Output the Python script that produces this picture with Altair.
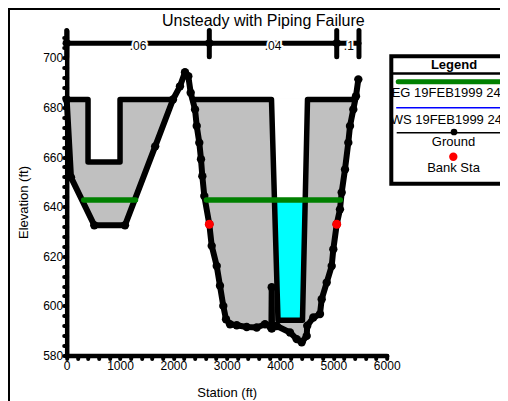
import altair as alt
import pandas as pd

# ---------------- data ----------------
ground_sta = [0, 81, 517, 1093, 1659, 1993, 2124, 2218, 2280, 2325, 2406, 2438, 2486, 2518,
              2543, 2580, 2674, 2719, 2813, 2874, 2936, 2987, 3062, 3188, 3375, 3563, 3718,
              3812, 3838, 3844, 3850, 3938, 4187, 4313, 4406, 4500, 4510, 4624, 4749, 4781,
              4875, 4969, 4999, 5063, 5124, 5156, 5218, 5280, 5312, 5374, 5424, 5468]
ground_elev = [683.2, 651.8, 632.5, 632.5, 664.3, 683.2, 688.5, 694.2, 692.6, 685.9, 679.2,
               672.5, 665.8, 659.1, 652.3, 644.3, 632.9, 624.2, 616.1, 608.1, 600.0, 594.6,
               592.6, 592.2, 591.5, 591.3, 592.6, 591.9, 591.0, 607.5, 591.0, 591.9, 589.3,
               586.6, 585.3, 587.9, 592.0, 595.3, 596.7, 602.7, 609.4, 616.1, 622.8, 632.9,
               638.9, 645.7, 655.0, 665.8, 672.5, 679.2, 684.5, 691.3]

crest_left_sta = [0, 400, 400, 1000, 1000, 1993]
crest_left_elev = [683.2, 683.2, 658.0, 658.0, 683.2, 683.2]
crest_right_sta = [2360, 3840, 3962, 4421, 4515, 5410]
crest_right_elev = [683.2, 683.2, 594.2, 594.2, 683.2, 683.2]

breach_sta = [3840, 4515, 4421, 3962]
breach_elev = [683.2, 683.2, 594.2, 594.2]
water_sta = [3896, 4472, 4421, 3962]
water_elev = [641.8, 641.8, 594.2, 594.2]

eg_sta = [320, 1290, 2620, 5130]
eg_seg = [0, 0, 1, 1]
eg_elev = 642.7
ws_elev = 642.2

bank_sta = [2674, 5063]
bank_elev = [632.9, 632.9]

n_break_sta = [0, 2674, 5063, 5480]
n_values = [".06", ".04", ".1"]
n_label_sta = [1337, 3868, 5290]
n_bar_elev = 705.9
n_label_elev = 704.8
n_tick_lo, n_tick_hi = 700.4, 711.0

legend_labels = ["EG 19FEB1999 2400", "WS 19FEB1999 2400", "Ground", "Bank Sta"]

FONT = "Liberation Sans"

# ---------------- tables ----------------
def poly(sta, elev, g):
    return pd.DataFrame({"x": sta, "y": elev, "i": list(range(len(sta))), "g": g})

g_pairs = list(zip(ground_sta, ground_elev))
p1 = [(s, e) for s, e in zip(crest_left_sta, crest_left_elev)] + \
     [(s, e) for s, e in reversed(g_pairs) if 0 < s < 1993]
p2 = [(2360, 683.2), (5410, 683.2)] + [(s, e) for s, e in reversed(g_pairs) if 2360 < s < 5410]
gray_df = pd.concat([poly([a for a, _ in p1], [b for _, b in p1], "p1"),
                     poly([a for a, _ in p2], [b for _, b in p2], "p2")])
breach_df = poly(breach_sta, breach_elev, "b")
water_df = poly(water_sta, water_elev, "w")
crest_df = pd.concat([poly(crest_left_sta, crest_left_elev, "l"),
                      poly(crest_right_sta, crest_right_elev, "r")])
ground_df = poly(ground_sta, ground_elev, "g")
eg_df = pd.DataFrame({"x": eg_sta, "y": [eg_elev] * 4, "g": eg_seg})
ws_df = pd.DataFrame({"x": eg_sta, "y": [ws_elev] * 4, "g": eg_seg})
bank_df = pd.DataFrame({"x": bank_sta, "y": bank_elev})
nbar_df = pd.DataFrame({"x": [n_break_sta[0], n_break_sta[-1]], "y": [n_bar_elev] * 2})
ntick_df = pd.DataFrame({"x": n_break_sta, "y": [n_tick_lo] * 4, "y2": [n_tick_hi] * 4})
ndot_df = pd.DataFrame({"x": n_break_sta[:3], "y": [n_bar_elev] * 3})
nlab_df = pd.DataFrame({"x": n_label_sta, "y": [n_label_elev] * 3, "t": n_values})
one = pd.DataFrame({"a": [0]})

# ---------------- encodings ----------------
X = alt.X("x:Q", scale=alt.Scale(domain=[0, 6000], nice=False, zero=False),
          axis=alt.Axis(values=list(range(0, 6001, 200)), format="d",
                        labelExpr="datum.value % 1000 == 0 ? datum.label : ''",
                        title="Station (ft)", titleX=160, titleY=41,
                        titleBaseline="alphabetic", titleAlign="center",
                        labelFlush=False, labelOverlap=False, labelPadding=2))
Y = alt.Y("y:Q", scale=alt.Scale(domain=[580, 711], nice=False, zero=False),
          axis=alt.Axis(values=list(range(580, 709, 4)), format="d",
                        labelExpr="datum.value % 20 == 0 ? datum.label : ''",
                        title="Elevation (ft)", titleX=-42.7, titleY=171.5,
                        titleAngle=270, titleBaseline="middle", titleAlign="center",
                        labelOverlap=False, labelPadding=1))
O = alt.Order("i:Q")

layers = []
layers.append(alt.Chart(gray_df).mark_line(fill="#c0c0c0", stroke="#c0c0c0", strokeWidth=1)
              .encode(x=X, y=Y, order=O, detail="g:N"))
layers.append(alt.Chart(breach_df).mark_line(fill="white", stroke="white", strokeWidth=1)
              .encode(x=X, y=Y, order=O))
layers.append(alt.Chart(water_df).mark_line(fill="#00ffff", stroke="#00ffff", strokeWidth=1)
              .encode(x=X, y=Y, order=O))
layers.append(alt.Chart(crest_df).mark_line(color="black", strokeWidth=5.5, strokeJoin="round",
                                            strokeCap="round")
              .encode(x=X, y=Y, order=O, detail="g:N"))
layers.append(alt.Chart(ground_df).mark_line(color="black", strokeWidth=6, strokeJoin="round",
                                             strokeCap="round")
              .encode(x=X, y=Y, order=O))
layers.append(alt.Chart(ground_df).mark_circle(color="black", size=70, opacity=1)
              .encode(x=X, y=Y))
layers.append(alt.Chart(ws_df).mark_line(color="#0000ff", strokeWidth=1.2)
              .encode(x=X, y=Y, detail="g:N"))
layers.append(alt.Chart(eg_df).mark_line(color="#008000", strokeWidth=5.5, strokeCap="round")
              .encode(x=X, y=Y, detail="g:N"))
layers.append(alt.Chart(bank_df).mark_circle(color="#ff0000", size=80, opacity=1)
              .encode(x=X, y=Y))
# Manning's n bar
layers.append(alt.Chart(nbar_df).mark_line(color="black", strokeWidth=5, strokeCap="round")
              .encode(x=X, y=Y))
layers.append(alt.Chart(ntick_df).mark_rule(color="black", strokeWidth=5, strokeCap="round")
              .encode(x=X, y=Y, y2="y2:Q"))
layers.append(alt.Chart(ndot_df).mark_circle(color="black", size=70, opacity=1)
              .encode(x=X, y=Y))
layers.append(alt.Chart(nlab_df).mark_text(font=FONT, fontSize=12, fill="white", stroke="white",
                                           strokeWidth=4, baseline="middle", align="center")
              .encode(x=X, y=Y, text="t:N"))
layers.append(alt.Chart(nlab_df).mark_text(font=FONT, fontSize=12, color="black",
                                           baseline="middle", align="center")
              .encode(x=X, y=Y, text="t:N"))

# title
layers.append(alt.Chart(one).mark_text(font=FONT, fontSize=16, color="black", align="center",
                                       baseline="alphabetic")
              .encode(x=alt.value(196.6), y=alt.value(-4.5), text=alt.value("Unsteady with Piping Failure")))
# outer frame (top and left)
layers.append(alt.Chart(one).mark_rule(color="black", strokeWidth=2)
              .encode(x=alt.value(-57.7), y=alt.value(-22.5), y2=alt.value(371)))
layers.append(alt.Chart(one).mark_rule(color="black", strokeWidth=2)
              .encode(x=alt.value(-58.7), x2=alt.value(434), y=alt.value(-21.5)))

# legend
LX = 386.8
layers.append(alt.Chart(one).mark_rect(fill="white")
              .encode(x=alt.value(324.6), x2=alt.value(470), y=alt.value(25.7), y2=alt.value(153.2)))
layers.append(alt.Chart(one).mark_text(font=FONT, fontSize=13, fontWeight="bold", color="black",
                                       align="center", baseline="middle")
              .encode(x=alt.value(387.3), y=alt.value(34), text=alt.value("Legend")))
layers.append(alt.Chart(one).mark_rule(color="black", strokeWidth=2.5)
              .encode(x=alt.value(324.6), x2=alt.value(470), y=alt.value(43)))
layers.append(alt.Chart(one).mark_rule(color="#008000", strokeWidth=5, strokeCap="round")
              .encode(x=alt.value(331.5), x2=alt.value(470), y=alt.value(51.2)))
layers.append(alt.Chart(one).mark_rule(color="#0000ff", strokeWidth=1.5)
              .encode(x=alt.value(329.5), x2=alt.value(470), y=alt.value(77.2)))
layers.append(alt.Chart(one).mark_rule(color="black", strokeWidth=1.5)
              .encode(x=alt.value(330), x2=alt.value(470), y=alt.value(102.2)))
layers.append(alt.Chart(one).mark_circle(color="black", size=45, opacity=1)
              .encode(x=alt.value(387.3), y=alt.value(101.5)))
layers.append(alt.Chart(one).mark_circle(color="#ff0000", size=70, opacity=1)
              .encode(x=alt.value(386.6), y=alt.value(126.2)))
for lab, yy in zip(legend_labels, [62.8, 89.5, 111.2, 137.8]):
    layers.append(alt.Chart(one).mark_text(font=FONT, fontSize=13, color="black",
                                           align="center", baseline="middle")
                  .encode(x=alt.value(LX), y=alt.value(yy), text=alt.value(lab)))
layers.append(alt.Chart(one).mark_rect(fill=None, stroke="black", strokeWidth=4, fillOpacity=0)
              .encode(x=alt.value(324.6), x2=alt.value(470), y=alt.value(25.7), y2=alt.value(153.2)))

chart = alt.layer(*layers).properties(
    width=320, height=325,
    padding={"left": 58.7, "top": 22.5, "right": 113.3, "bottom": 45.5},
    autosize=alt.AutoSizeParams(type="none"),
).configure_view(stroke=None).configure_axis(
    grid=False, labelFont=FONT, titleFont=FONT, labelFontSize=12, titleFontSize=13,
    titleFontWeight="normal", labelColor="black", titleColor="black",
    domainColor="black", domainWidth=4.5, domainCap="round",
    tickColor="black", tickWidth=4, tickSize=3, tickCap="round",
)

chart.save("out.html", embed_options={"renderer": "svg", "actions": False})
